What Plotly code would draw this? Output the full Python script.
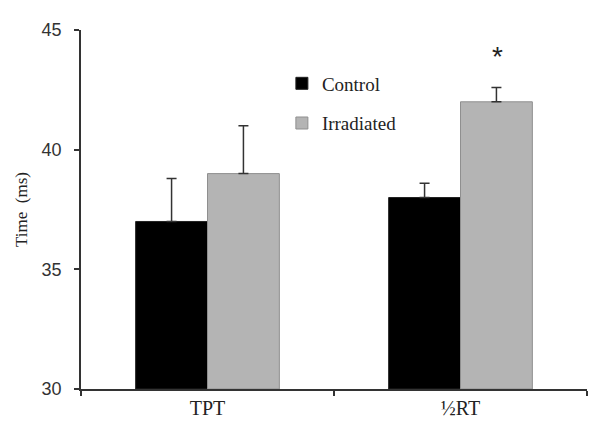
import plotly.graph_objects as go

categories = ["TPT", "½RT"]
control = [37.0, 38.0]
control_err = [1.8, 0.6]
irradiated = [39.0, 42.0]
irradiated_err = [2.0, 0.6]
y_ticks = [30, 35, 40, 45]

fig = go.Figure()
fig.add_trace(go.Bar(
    x=categories, y=[v - 30 for v in control], base=30, name="Control",
    legendgroup="c",
    marker=dict(color="#000000", line=dict(color="#222222", width=1)),
    error_y=dict(type="data", symmetric=False, array=control_err,
                 arrayminus=[0] * len(control_err),
                 color="#333333", thickness=1.5, width=5),
))
fig.add_trace(go.Bar(
    x=categories, y=[v - 30 for v in irradiated], base=30, name="Irradiated",
    legendgroup="i",
    marker=dict(color="#b4b4b4", line=dict(color="#8f8f8f", width=1)),
    error_y=dict(type="data", symmetric=False, array=irradiated_err,
                 arrayminus=[0] * len(irradiated_err),
                 color="#333333", thickness=1.5, width=5),
))

fig.add_annotation(x=categories[1], y=43.85,
                   text="*", showarrow=False, xshift=37, yshift=1,
                   font=dict(family="Liberation Sans", size=28, color="#222222"),
                   yanchor="middle")

fig.update_layout(
    width=592, height=424,
    margin=dict(l=65, r=13, t=14, b=43),
    plot_bgcolor="white", paper_bgcolor="white",
    barmode="group", bargap=0.432, bargroupgap=0,
    showlegend=True,
    legend=dict(x=0.397, y=0.904, xanchor="left", yanchor="top",
                font=dict(family="Liberation Serif", size=19, color="#222222"),
                bgcolor="rgba(0,0,0,0)", itemwidth=30, tracegroupgap=12),
    xaxis=dict(showline=True, linecolor="#333333", linewidth=1.5,
               ticks="outside", tickson="boundaries", ticklen=5,
               tickcolor="#333333", tickwidth=1.5,
               tickfont=dict(family="Liberation Serif", size=20, color="#222222"),
               range=[-0.5, 1.5], showgrid=False),
    yaxis=dict(showline=True, linecolor="#333333", linewidth=1.5,
               ticks="outside", ticklen=5, tickcolor="#333333", tickwidth=1.5,
               range=[30, 45], tickvals=y_ticks, showgrid=False, zeroline=False,
               ticklabelstandoff=9,
               tickfont=dict(family="Liberation Sans", size=18, color="#333333"),
               title=dict(text="Time  (ms)", standoff=10,
                          font=dict(family="Liberation Serif", size=17, color="#222222"))),
)

fig.write_html("out.html")
